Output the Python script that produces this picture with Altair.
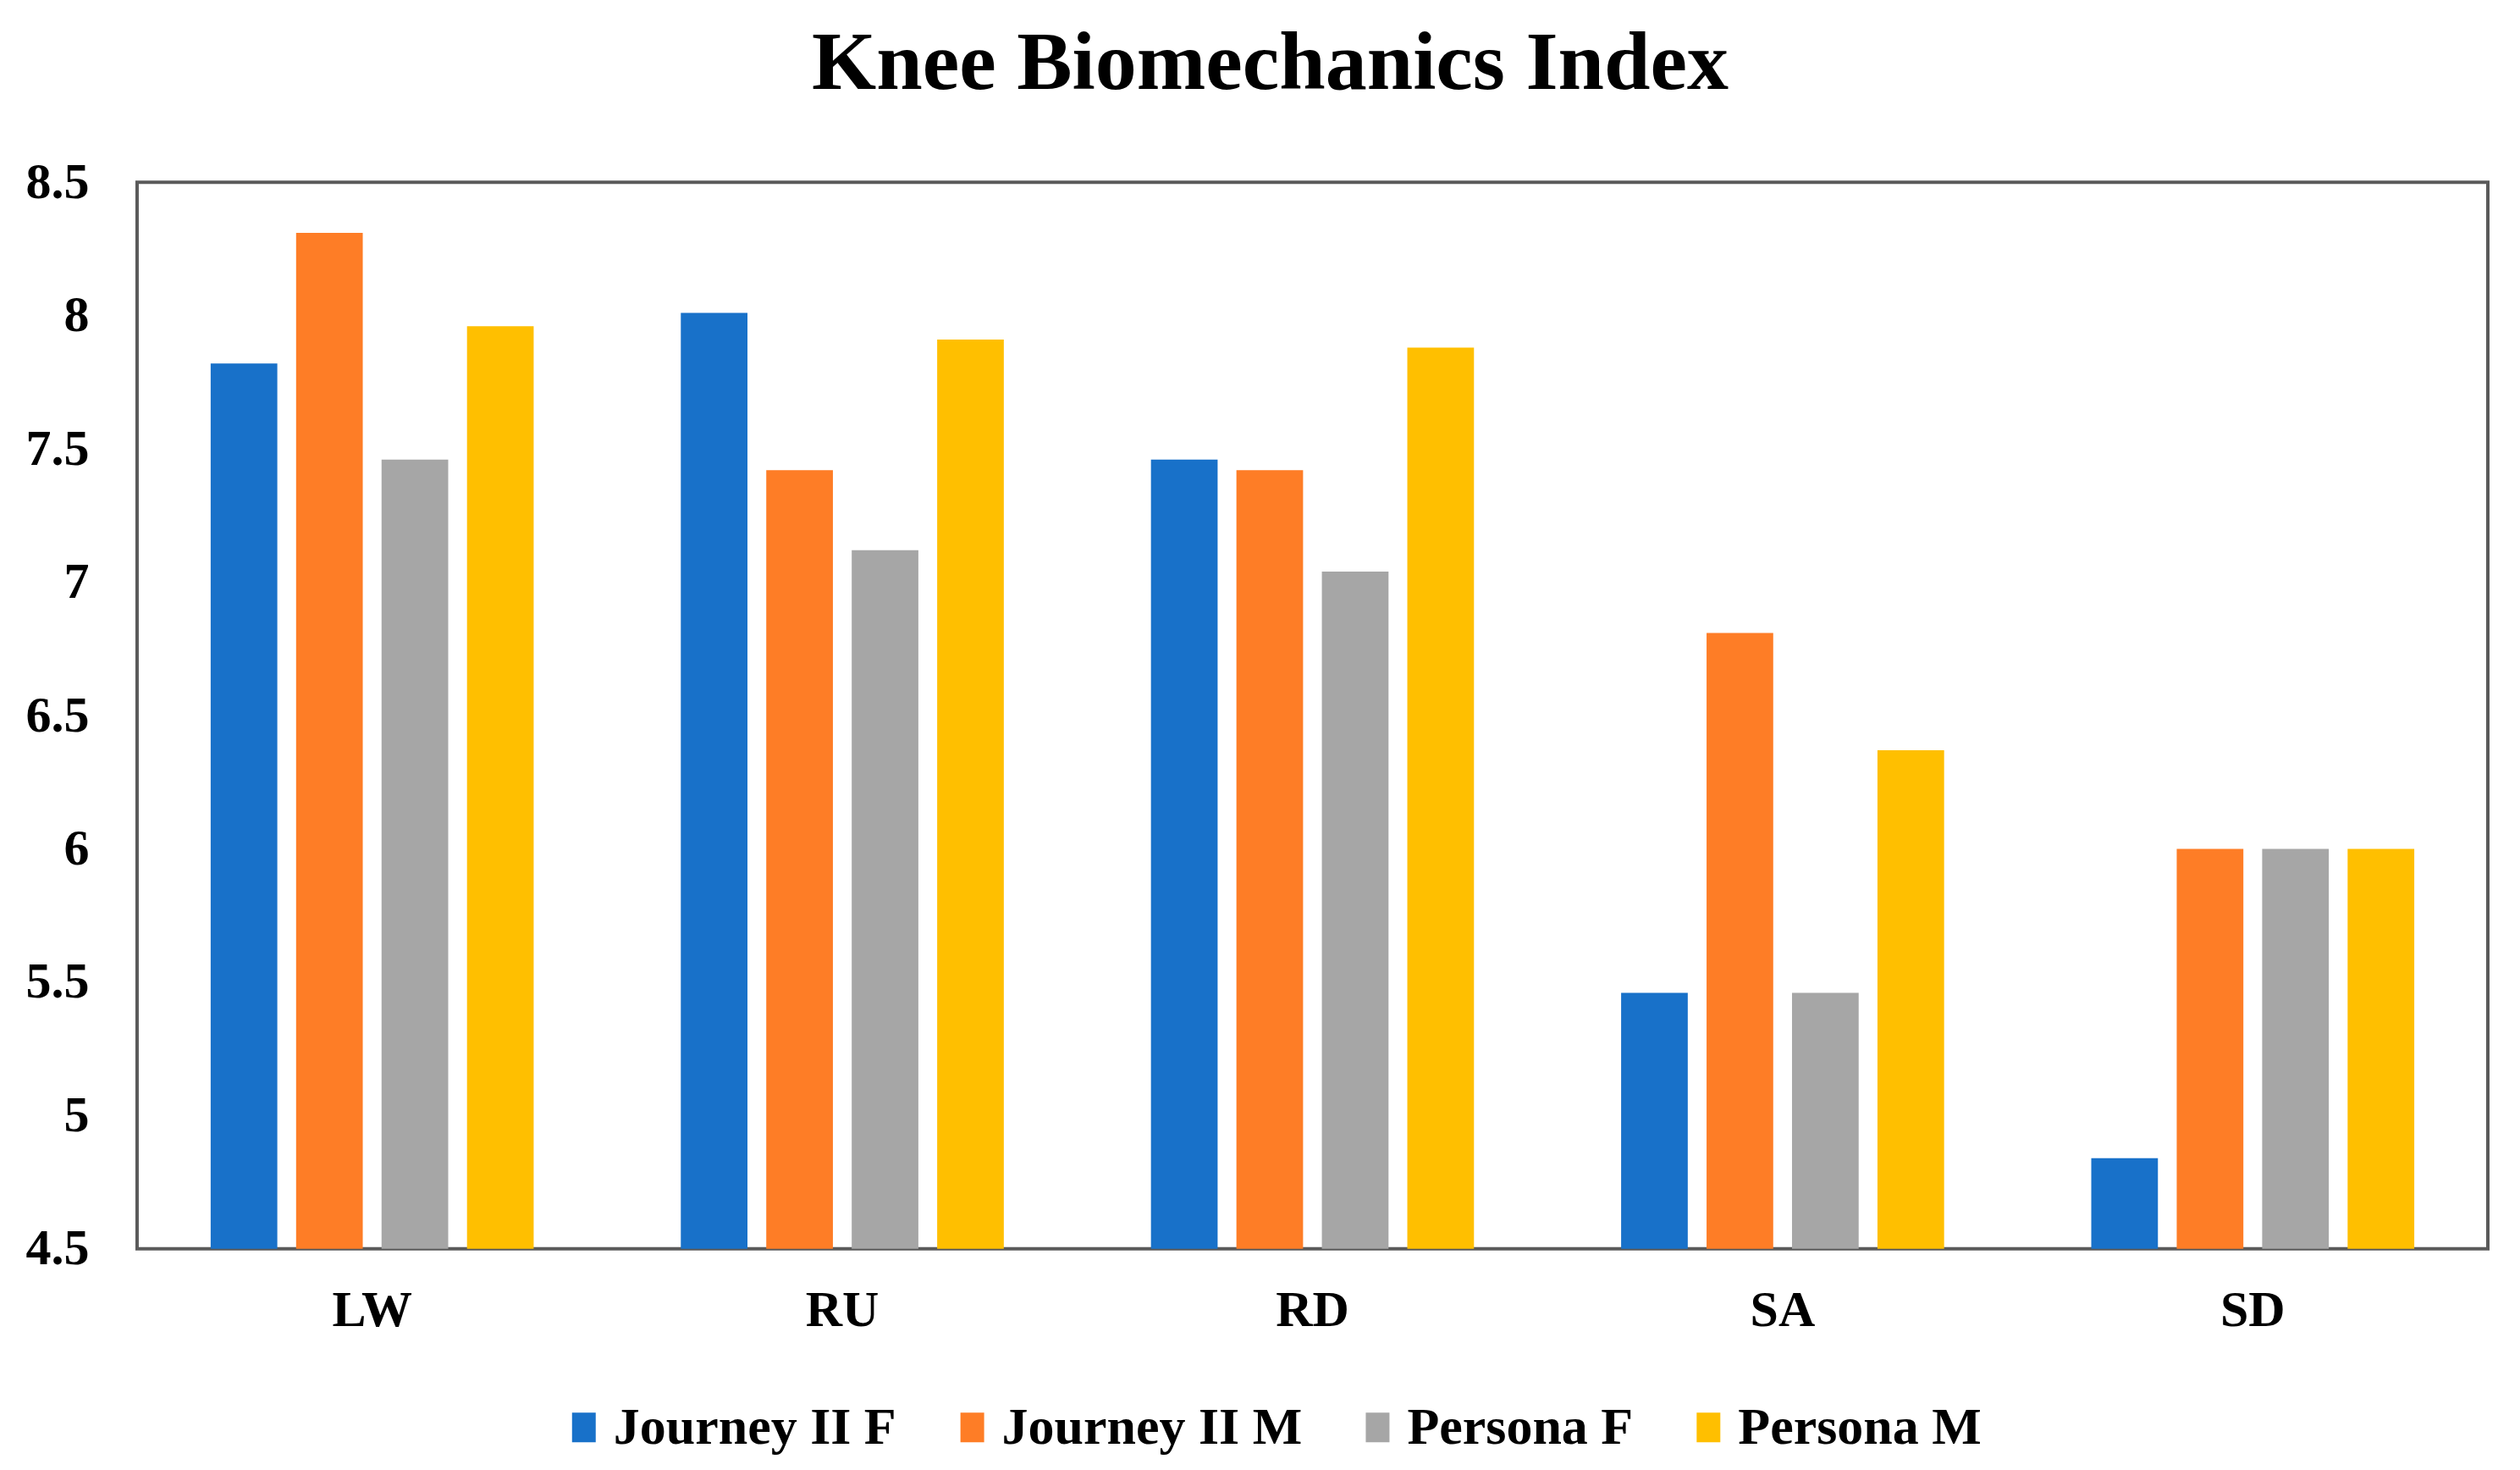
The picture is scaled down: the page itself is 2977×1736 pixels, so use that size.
import altair as alt
import pandas as pd

categories = ["LW", "RU", "RD", "SA", "SD"]
series = ["Journey II F", "Journey II M", "Persona F", "Persona M"]
journey_f = [7.82, 8.01, 7.46, 5.46, 4.84]
journey_m = [8.31, 7.42, 7.42, 6.81, 6.00]
persona_f = [7.46, 7.12, 7.04, 5.46, 6.00]
persona_m = [7.96, 7.91, 7.88, 6.37, 6.00]
colors = ["#1871C9", "#FE7D26", "#A6A6A6", "#FFBF00"]
y_ticks = [4.5, 5, 5.5, 6, 6.5, 7, 7.5, 8, 8.5]

rows = []
for name, vals in zip(series, [journey_f, journey_m, persona_f, persona_m]):
    for c, v in zip(categories, vals):
        rows.append({"Activity": c, "Series": name, "Value": v})
df = pd.DataFrame(rows)

FONT = "Liberation Serif"

chart = alt.Chart(df).mark_bar().encode(
    x=alt.X("Activity:N", sort=categories,
            scale=alt.Scale(paddingInner=0.273, paddingOuter=0.1365),
            axis=alt.Axis(title=None, labelAngle=0, labelFont=FONT, labelFontWeight="bold",
                          labelFontSize=60, labelColor="#000000", labelPadding=44,
                          ticks=False, domain=False)),
    xOffset=alt.XOffset("Series:N", sort=series,
                        scale=alt.Scale(paddingInner=0.22, paddingOuter=0.11)),
    y=alt.Y("Value:Q", scale=alt.Scale(domain=[4.5, 8.5], zero=False, nice=False),
            axis=alt.Axis(title=None, values=y_ticks, format="~g", labelFont=FONT,
                          labelFontWeight="bold", labelFontSize=60, labelColor="#000000",
                          labelPadding=57, ticks=False, domain=False, grid=False)),
    y2=alt.datum(4.5),
    color=alt.Color("Series:N", sort=series,
                    scale=alt.Scale(domain=series, range=colors),
                    legend=alt.Legend(title=None, orient="none", direction="horizontal",
                                      legendX=497, legendY=1440,
                                      symbolType="M-0.8,-1H0.8V1H-0.8Z",
                                      symbolSize=1225, symbolStrokeWidth=0,
                                      labelFont=FONT, labelFontWeight="bold",
                                      labelFontSize=62, labelColor="#000000",
                                      labelOffset=4, columnPadding=58,
                                      labelLimit=1000)),
).properties(
    width=2778,
    height=1260,
    background="#FFFFFF",
    title=alt.TitleParams("Knee Biomechanics Index", font=FONT, fontWeight="bold",
                          fontSize=98, color="#000000", anchor="middle", frame="group",
                          dx=-50, offset=59),
    autosize=alt.AutoSizeParams(type="none"),
    padding={"left": 154, "top": 207, "right": 30, "bottom": 250},
).configure_view(
    stroke="#5A5A5A", strokeWidth=4
)

chart.save("out.html", embed_options={"renderer": "svg", "actions": False})
